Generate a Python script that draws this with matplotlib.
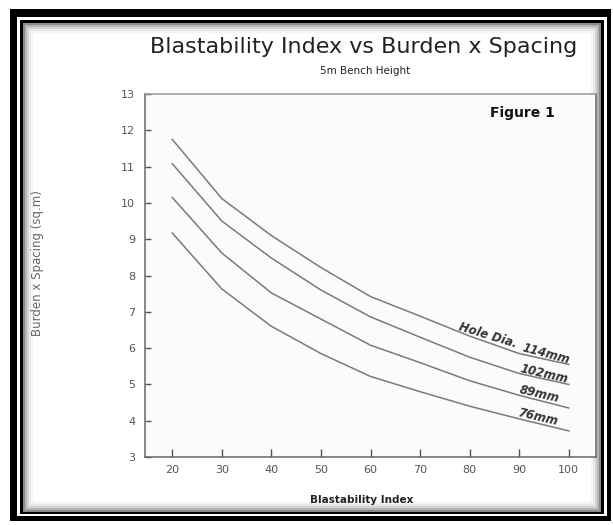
import numpy as np
import matplotlib.pyplot as plt
from matplotlib.patches import Rectangle

# blastability index and burden x spacing (sq.m) per hole diameter
bi = [20, 30, 40, 50, 60, 70, 80, 90, 100]
d114 = [11.75, 10.12, 9.10, 8.22, 7.42, 6.88, 6.33, 5.85, 5.55]
d102 = [11.08, 9.50, 8.48, 7.60, 6.86, 6.30, 5.75, 5.30, 5.00]
d89 = [10.15, 8.62, 7.52, 6.80, 6.08, 5.60, 5.10, 4.70, 4.35]
d76 = [9.17, 7.63, 6.60, 5.85, 5.22, 4.80, 4.40, 4.05, 3.72]

xticks = [20, 30, 40, 50, 60, 70, 80, 90, 100]
yticks = [3, 4, 5, 6, 7, 8, 9, 10, 11, 12, 13]

W, H = 613, 525
fig = plt.figure(figsize=(W / 100, H / 100), dpi=100)
fig.patch.set_facecolor('white')

def box(x0, y0, x1, y1, **kw):
    # rectangle in pixel coords (top-left origin)
    r = Rectangle((x0 / W, 1 - y1 / H), (x1 - x0) / W, (y1 - y0) / H,
                  transform=fig.transFigure, zorder=-5, **kw)
    fig.add_artist(r)

# picture frame
box(10, 9, 611, 521, facecolor='black', edgecolor='none')
box(17, 17, 607, 516, facecolor='white', edgecolor='none')
box(20, 20, 603.5, 514, facecolor='black', edgecolor='none')
box(23, 23, 600.5, 512, facecolor='white', edgecolor='none')
for i, g in enumerate(['#8a8a8a', '#b5b5b5', '#d4d4d4', '#e8e8e8', '#f4f4f4']):
    box(23 + i * 2 + 1, 23 + i * 2 + 1, 600.5 - i * 2 - 1, 512 - i * 2 - 1,
        facecolor='none', edgecolor=g, lw=1.5)

ax = fig.add_axes([145 / W, 1 - 457 / H, (596 - 145) / W, (457 - 94) / H])
ax.set_facecolor('#fbfbfb')

for ys in [d114, d102, d89, d76]:
    ax.plot(bi, ys, color='#7a7a7a', lw=1.1)

ax.set_xlim(14.5, 105.5)
ax.set_ylim(3, 13)
ax.set_xticks(xticks)
ax.set_yticks(yticks)
ax.tick_params(axis='both', direction='in', colors='#555555', labelsize=8,
               labelcolor='#555555', width=1.0)
ax.tick_params(axis='x', length=6, pad=6)
ax.tick_params(axis='y', length=4, pad=7)
for s in ax.spines.values():
    s.set_color('#666666')
    s.set_linewidth(1.1)
ax.spines['top'].set_color('#999999')

# curve labels
lab = dict(color='#333333', fontsize=8.5, style='italic', fontweight='bold',
           ha='center', va='center')
ax.text(83.7, 6.36, 'Hole Dia.', rotation=-17, **lab)
ax.text(95.5, 5.85, '114mm', rotation=-15, **lab)
ax.text(95.0, 5.28, '102mm', rotation=-13, **lab)
ax.text(94.0, 4.73, '89mm', rotation=-13, **lab)
ax.text(93.8, 4.09, '76mm', rotation=-13, **lab)

ax.text(0.909, 0.948, 'Figure 1', transform=ax.transAxes, fontsize=10,
        fontweight='bold', color='#111111', ha='right', va='center')

fig.text(364 / W, 1 - 47 / H, 'Blastability Index vs Burden x Spacing',
         fontsize=16, color='#222222', ha='center', va='center')
fig.text(365 / W, 1 - 71 / H, '5m Bench Height', fontsize=7.5,
         color='#222222', ha='center', va='center')
fig.text(362 / W, 1 - 500 / H, 'Blastability Index', fontsize=7.5,
         fontweight='bold', color='#222222', ha='center', va='center')
fig.text(38 / W, 1 - 263 / H, 'Burden x Spacing (sq.m)', fontsize=8.5,
         color='#666666', rotation=90, ha='center', va='center')

fig.savefig('out.png', dpi=100)
